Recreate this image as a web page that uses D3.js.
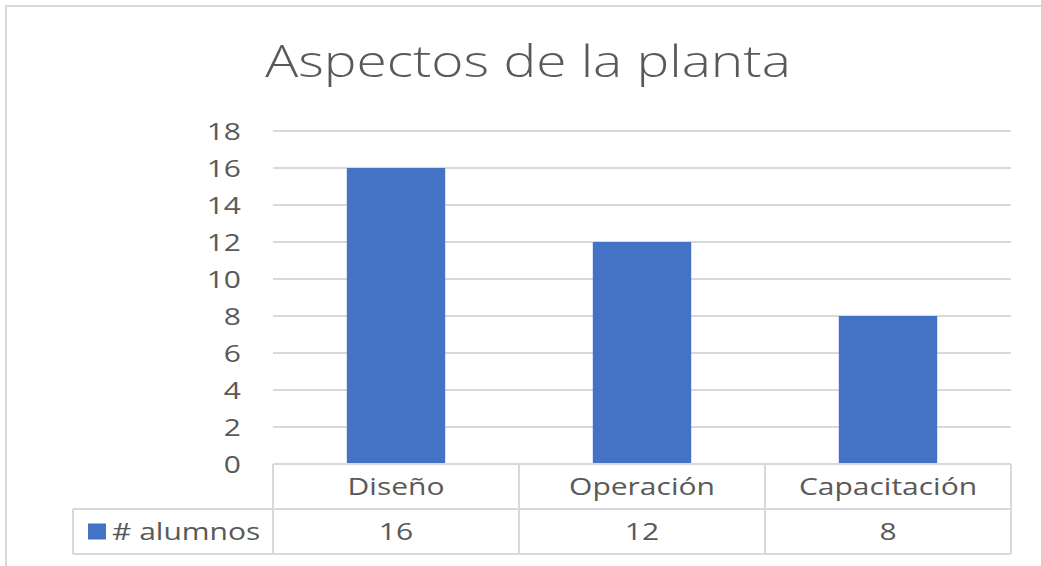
<html lang="es">
<head>
  <meta charset="UTF-8"/>
  <title>Aspectos de la planta</title>
  <script src="https://d3js.org/d3.v7.min.js"></script>
</head>
<style>
body {
  margin: 0;
  background: #fff;
  font-family: 'Open Sans', sans-serif;
}

svg {
  display: block;
}

text {
  fill: #595959;
}

text.title {
  font-size: 44px;
  font-weight: 300;
}

text.tick-label, text.cat, text.value, text.legend {
  font-size: 24px;
}

.grid line {
  stroke: #d9d9d9;
  stroke-width: 2;
}

.table line {
  stroke: #d9d9d9;
  stroke-width: 2;
}

.bar {
  fill: #4472c4;
}
</style>
<body>
<svg width="1041" height="566"></svg>
<script>
    const title = 'Aspectos de la planta';
    const categories = ['Diseño', 'Operación', 'Capacitación'];
    const seriesName = '# alumnos';
    const values = [16, 12, 8];
    const yTicks = [0, 2, 4, 6, 8, 10, 12, 14, 16, 18];

    const svg = d3.select('svg');

    // plot area
    const plotLeft = 273, plotRight = 1011;
    const plotTop = 131, plotBottom = 464;
    const rowH = 45;
    // the original text looks stretched sideways
    const stretch = 1.25;

    const xScale = d3.scaleBand()
      .domain(categories)
      .range([plotLeft, plotRight])
      .padding(0);

    const yScale = d3.scaleLinear()
      .domain([0, 18])
      .range([plotBottom, plotTop]);

    const place = (x, y) => `translate(${x},${y}) scale(${stretch},1)`;

    // chart border
    svg.append('path')
      .attr('d', 'M6,566 L6,6 L1041,6')
      .attr('fill', 'none')
      .attr('stroke', '#d9d9d9')
      .attr('stroke-width', 2);

    svg.append('text')
      .attr('class', 'title')
      .attr('transform', place(528, 77))
      .attr('text-anchor', 'middle')
      .text(title);

    // horizontal grid lines
    svg.append('g')
      .attr('class', 'grid')
      .selectAll('line')
      .data(yTicks.filter(d => d > 0))
      .enter()
      .append('line')
      .attr('x1', plotLeft)
      .attr('x2', plotRight)
      .attr('y1', d => yScale(d))
      .attr('y2', d => yScale(d));

    svg.append('g')
      .selectAll('text')
      .data(yTicks)
      .enter()
      .append('text')
      .attr('class', 'tick-label')
      .attr('transform', d => place(241, yScale(d)))
      .attr('dy', '0.36em')
      .attr('text-anchor', 'end')
      .text(d => d);

    const barW = xScale.bandwidth() * 0.4;

    svg.append('g')
      .selectAll('rect')
      .data(values)
      .enter()
      .append('rect')
      .attr('class', 'bar')
      .attr('x', (d, i) => xScale(categories[i]) + (xScale.bandwidth() - barW) / 2)
      .attr('y', d => yScale(d))
      .attr('width', barW)
      .attr('height', d => yScale(0) - yScale(d));

    // data table under the axis
    const table = svg.append('g').attr('class', 'table');
    const legendLeft = 73;

    table.append('line')
      .attr('x1', plotLeft).attr('x2', plotRight)
      .attr('y1', plotBottom).attr('y2', plotBottom);
    table.append('line')
      .attr('x1', legendLeft).attr('x2', plotRight)
      .attr('y1', plotBottom + rowH).attr('y2', plotBottom + rowH);
    table.append('line')
      .attr('x1', legendLeft).attr('x2', plotRight)
      .attr('y1', plotBottom + 2 * rowH).attr('y2', plotBottom + 2 * rowH);
    table.append('line')
      .attr('x1', legendLeft).attr('x2', legendLeft)
      .attr('y1', plotBottom + rowH).attr('y2', plotBottom + 2 * rowH);

    table.selectAll('line.sep')
      .data(categories.map(c => xScale(c)).concat([plotRight]))
      .enter()
      .append('line')
      .attr('class', 'sep')
      .attr('x1', d => d).attr('x2', d => d)
      .attr('y1', plotBottom).attr('y2', plotBottom + 2 * rowH);

    svg.append('g')
      .selectAll('text')
      .data(categories)
      .enter()
      .append('text')
      .attr('class', 'cat')
      .attr('transform', d => place(xScale(d) + xScale.bandwidth() / 2, plotBottom + rowH / 2))
      .attr('dy', '0.36em')
      .attr('text-anchor', 'middle')
      .text(d => d);

    svg.append('g')
      .selectAll('text')
      .data(values)
      .enter()
      .append('text')
      .attr('class', 'value')
      .attr('transform', (d, i) => place(xScale(categories[i]) + xScale.bandwidth() / 2, plotBottom + rowH * 1.5))
      .attr('dy', '0.36em')
      .attr('text-anchor', 'middle')
      .text(d => d);

    // legend key
    svg.append('rect')
      .attr('class', 'bar')
      .attr('x', 88)
      .attr('y', plotBottom + rowH * 1.5 - 8)
      .attr('width', 18)
      .attr('height', 16);

    svg.append('text')
      .attr('class', 'legend')
      .attr('transform', place(112, plotBottom + rowH * 1.5))
      .attr('dy', '0.36em')
      .text(seriesName);
</script>
</body>
</html>
